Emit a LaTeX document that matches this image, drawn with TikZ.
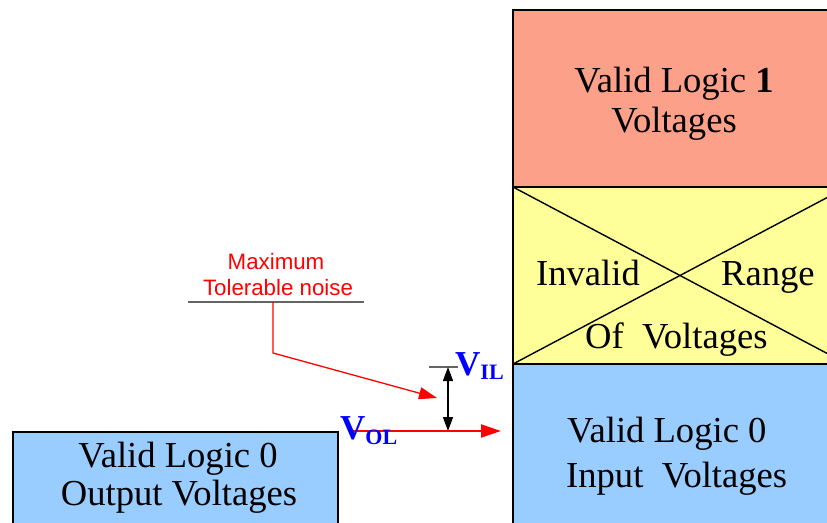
\documentclass[tikz,border=0pt]{standalone}
\usepackage{fontspec}
\setmainfont{Liberation Serif}
\newfontfamily\labelsans{Liberation Sans}
\usetikzlibrary{arrows.meta}
\definecolor{salmonbox}{RGB}{253,160,137}
\definecolor{yellowbox}{RGB}{255,255,153}
\definecolor{bluebox}{RGB}{153,204,255}
\definecolor{vblue}{RGB}{0,0,255}
\definecolor{noisered}{RGB}{255,0,0}
\definecolor{leadergray}{RGB}{100,100,100}
\newcommand{\subtxt}[2]{\raisebox{#1}{\fontsize{22}{24}\selectfont\bfseries #2}}
\begin{document}
\begin{tikzpicture}[x=1pt,y=-1pt,
  bandbox/.style={draw=black,line width=2.4pt},
  bigtext/.style={inner sep=0pt,anchor=base,font=\fontsize{36.6}{40}\selectfont},
  bigtextl/.style={inner sep=0pt,anchor=base west,font=\fontsize{36.6}{40}\selectfont},
  noisetext/.style={inner sep=0pt,anchor=base,text=noisered,font=\labelsans\fontsize{22.3}{24}\selectfont},
  vlabel/.style={inner sep=0pt,anchor=base west,text=vblue,font=\bfseries\fontsize{35}{36}\selectfont},
  xline/.style={draw=black,line width=1.4pt},
  leader/.style={draw=leadergray,line width=1.6pt},
  redarrow/.style={draw=noisered,line width=1.3pt,-{Triangle[length=18pt,width=12pt]}},
  volarrow/.style={draw=noisered,line width=2pt,-{Triangle[length=20pt,width=13pt]}},
  dimarrow/.style={draw=black,line width=1.3pt,{Triangle[length=14pt,width=10pt]}-{Triangle[length=14pt,width=10pt]}}
]
\useasboundingbox (0,0) rectangle (827,522);
\clip (0,0) rectangle (827,522);
\fill[white] (0,0) rectangle (827,522);

% right column
\draw[bandbox,fill=salmonbox] (513,10) rectangle (850,187);
\draw[bandbox,fill=yellowbox] (513,187) rectangle (850,364);
\draw[bandbox,fill=bluebox] (513,364) rectangle (850,540);
\draw[xline] (513,187) -- (847,364);
\draw[xline] (513,364) -- (847,187);
\draw[bandbox] (513,187) -- (850,187);
\draw[bandbox] (513,364) -- (850,364);

% left box
\draw[bandbox,fill=bluebox] (13,432) rectangle (338,540);

% box texts
\node[bigtext] (v1a) at (674,92) {Valid Logic \textbf{1}};
\node[bigtext] (v1b) at (674,132) {Voltages};
\node[bigtextl] (inv) at (536,285) {Invalid};
\node[bigtextl] (rng) at (721,285) {Range};
\node[bigtextl] (ofv) at (585,348) {Of\ \ Voltages};
\node[bigtextl] (v0a) at (567,442) {Valid Logic 0};
\node[bigtextl] (v0b) at (566,487) {Input\ \ Voltages};
\node[bigtext] (o0a) at (178,467) {Valid Logic 0};
\node[bigtext] (o0b) at (179,505) {Output Voltages};

% noise label
\node[noisetext] (mx) at (276,269) {Maximum};
\node[noisetext] (tn) at (278,295) {Tolerable noise};
\coordinate (ul) at (188,302);
\coordinate (ur) at (364,302);
\coordinate (lt) at (273,302);
\coordinate (lb) at (273,353);
\coordinate (lh) at (437,398);
\draw[leader] (ul) -- (ur);
\draw[redarrow] (lt) -- (lb) -- (lh);

% V_IL / V_OL
\coordinate (ila) at (429,367);
\coordinate (ilb) at (458,367);
\draw[leader] (ila) -- (ilb);
\coordinate (dt) at (448,367);
\coordinate (db) at (448,431);
\draw[dimarrow] (dt) -- (db);
\coordinate (ola) at (352,431);
\coordinate (olb) at (501,431);
\draw[volarrow] (ola) -- (olb);
\node[vlabel] (vil) at (455,375) {V\subtxt{-4pt}{IL}};
\node[vlabel] (vol) at (340,439) {V\subtxt{-5pt}{OL}};
\end{tikzpicture}
\end{document}
